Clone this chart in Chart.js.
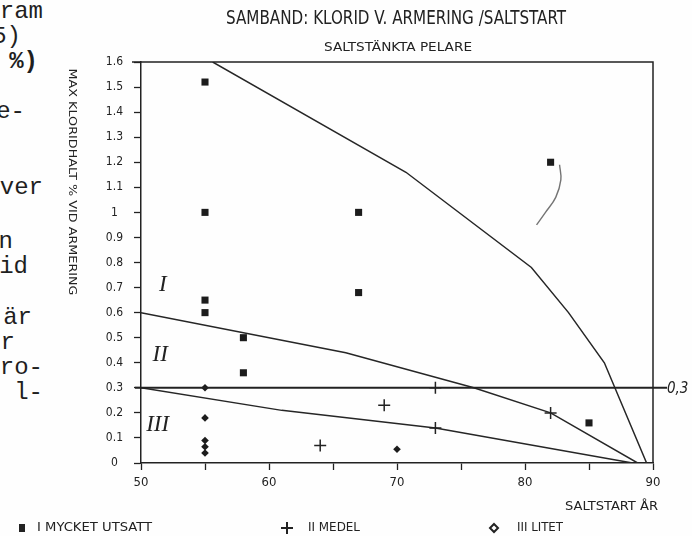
<!DOCTYPE html>
<html>
<head>
<meta charset="utf-8">
<title>Samband: klorid v. armering / saltstart</title>
<script src="https://cdn.jsdelivr.net/npm/chart.js@4.4.0/dist/chart.umd.min.js"></script>
<style>
    body { margin: 0; background: #fff; }
    #wrap { position: relative; width: 692px; height: 536px; overflow: hidden; background: #fefefe; }
    #chart { position: absolute; left: 0; top: 0; }
    .typ { position: absolute; font: 24px "Liberation Mono", "DejaVu Sans Mono", monospace; color: #1f1f1f; white-space: pre; line-height: 24px; }
</style>
</head>
<body>
<div id="wrap">
    <!-- cut-off typewriter text from the page the diagram sits on -->
    <div class="typ" style="right:649px; top:0px">ram</div>
    <div class="typ" style="right:671px; top:25px">5)</div>
    <div class="typ" style="right:654px; top:50px; font-weight:bold">%)</div>
    <div class="typ" style="right:667px; top:100px">e-</div>
    <div class="typ" style="right:649px; top:176px">ver</div>
    <div class="typ" style="right:679px; top:230px">n</div>
    <div class="typ" style="right:664px; top:255px">id</div>
    <div class="typ" style="right:660px; top:306px">är</div>
    <div class="typ" style="right:677px; top:331px">r</div>
    <div class="typ" style="right:649px; top:356px">ro-</div>
    <div class="typ" style="right:649px; top:381px">l-</div>
    <canvas id="chart" width="692" height="536"></canvas>
</div>
<script>
// Values
const serieNamn = ["I MYCKET UTSATT", "II MEDEL", "III LITET"];

const utsattAr = [55, 55, 55, 55, 58, 58, 67, 67, 82, 85];
const utsattKlorid = [1.52, 1.0, 0.65, 0.6, 0.5, 0.36, 1.0, 0.68, 1.2, 0.16];

const medelAr = [73, 69, 82, 73, 64];
const medelKlorid = [0.3, 0.23, 0.2, 0.14, 0.07];

const litetAr = [55, 55, 55, 55, 55, 70];
const litetKlorid = [0.3, 0.18, 0.09, 0.065, 0.04, 0.055];

// boundary lines between the classes I / II / III
const grans1Ar = [55.6, 70.7, 80.5, 83.4, 86.2, 89.5];
const grans1Klorid = [1.6, 1.16, 0.78, 0.6, 0.4, 0];
const grans2Ar = [50, 66, 76, 82, 88.8];
const grans2Klorid = [0.6, 0.44, 0.3, 0.2, 0];
const grans3Ar = [50, 61, 73, 88.4];
const grans3Klorid = [0.3, 0.21, 0.14, 0];

// pencil stroke next to the 1.2 point
const bagAr = [82.7, 82.8, 82.4, 81.6, 80.9];
const bagKlorid = [1.19, 1.13, 1.06, 1.0, 0.95];

const gransvarde = 0.3;

const xTickLabels = ["50", "", "60", "", "70", "", "80", "", "90"];
const yTickLabels = ["0", "0.1", "0.2", "0.3", "0.4", "0.5", "0.6", "0.7", "0.8", "0.9",
    "1", "1.1", "1.2", "1.3", "1.4", "1.5", "1.6"];

const FONT = '"Liberation Sans Narrow", "DejaVu Sans Condensed", "Roboto Condensed", "Liberation Sans", sans-serif';
const INK = "#222";

Chart.defaults.font.family = FONT;
Chart.defaults.color = INK;

// Function to pair x and y arrays into points
function toPoints(xs, ys) {
    return xs.map((v, i) => ({ x: v, y: ys[i] }));
}

// Function to draw text squeezed to a given width
function fitText(ctx, text, x, y, width, align) {
    const w = ctx.measureText(text).width;
    ctx.save();
    ctx.translate(x, y);
    ctx.scale(width / w, 1);
    ctx.textAlign = align;
    ctx.fillText(text, 0, 0);
    ctx.restore();
}

function lineSet(xs, ys, extra) {
    return Object.assign({
        data: toPoints(xs, ys),
        showLine: true,
        pointRadius: 0,
        borderColor: "#262626",
        borderWidth: 1.5,
        fill: false
    }, extra || {});
}

// Plugin for the frame, 0,3 line, titles, class numerals and legend
const pageText = {
    id: "pageText",
    afterDraw(chart) {
        const { ctx, chartArea: a, scales: { x, y } } = chart;
        ctx.save();
        ctx.strokeStyle = INK;
        ctx.fillStyle = INK;
        ctx.textBaseline = "middle";

        // top and right side of the box
        ctx.lineWidth = 1.5;
        ctx.beginPath();
        ctx.moveTo(a.left - 9, a.top);
        ctx.lineTo(a.right, a.top);
        ctx.lineTo(a.right, a.bottom);
        ctx.stroke();

        // 0,3 limit, drawn past both axes
        const y03 = y.getPixelForValue(gransvarde);
        ctx.lineWidth = 2;
        ctx.beginPath();
        ctx.moveTo(a.left - 6, y03);
        ctx.lineTo(a.right + 14, y03);
        ctx.stroke();
        ctx.font = "italic 15px " + FONT;
        ctx.textAlign = "left";
        ctx.fillText("0,3", a.right + 14, y03 + 1);

        // class numerals
        ctx.font = 'italic 23px "Liberation Serif", "DejaVu Serif", serif';
        ctx.textAlign = "center";
        [["I", 51.7, 0.71], ["II", 51.5, 0.43], ["III", 51.3, 0.15]].forEach(([t, ar, kl]) => {
            ctx.fillText(t, x.getPixelForValue(ar), y.getPixelForValue(kl));
        });

        // titles
        ctx.font = "19px " + FONT;
        fitText(ctx, "SAMBAND: KLORID V. ARMERING /SALTSTART", 396, 19, 340, "center");
        ctx.font = "13px " + FONT;
        fitText(ctx, "SALTSTÄNKTA PELARE", 398, 48, 148, "center");
        fitText(ctx, "SALTSTART ÅR", 658, 507, 93, "right");

        // y title reads top to bottom
        ctx.save();
        ctx.translate(72, 182);
        ctx.rotate(Math.PI / 2);
        ctx.font = "11px " + FONT;
        fitText(ctx, "MAX KLORIDHALT % VID ARMERING", 0, 0, 227, "center");
        ctx.restore();

        // legend
        const ly = 528;
        const legendPos = [[22, 37, 115], [287, 308, 52], [494, 517, 46]];
        ctx.font = "12px " + FONT;
        serieNamn.forEach((name, i) => {
            const [mx, tx, tw] = legendPos[i];
            if (i === 0) {
                ctx.fillRect(mx - 3, ly - 4, 6, 8);
            } else if (i === 1) {
                ctx.lineWidth = 2;
                ctx.beginPath();
                ctx.moveTo(mx - 6, ly); ctx.lineTo(mx + 6, ly);
                ctx.moveTo(mx, ly - 6); ctx.lineTo(mx, ly + 6);
                ctx.stroke();
            } else {
                ctx.lineWidth = 2;
                ctx.beginPath();
                ctx.moveTo(mx, ly - 4); ctx.lineTo(mx + 4, ly);
                ctx.lineTo(mx, ly + 4); ctx.lineTo(mx - 4, ly);
                ctx.closePath();
                ctx.stroke();
            }
            fitText(ctx, name, tx, ly, tw, "left");
        });
        ctx.restore();
    }
};

new Chart(document.getElementById("chart").getContext("2d"), {
    type: "scatter",
    data: {
        datasets: [
            {
                label: serieNamn[0],
                data: toPoints(utsattAr, utsattKlorid),
                pointStyle: "rect",
                pointRadius: 5,
                backgroundColor: "#1c1c1c",
                borderWidth: 0
            },
            {
                label: serieNamn[1],
                data: toPoints(medelAr, medelKlorid),
                pointStyle: "cross",
                pointRadius: 6,
                borderColor: "#222",
                borderWidth: 1.5
            },
            {
                label: serieNamn[2],
                data: toPoints(litetAr, litetKlorid),
                pointStyle: "rectRot",
                pointRadius: 3.8,
                backgroundColor: "#1c1c1c",
                borderWidth: 0
            },
            lineSet(grans1Ar, grans1Klorid),
            lineSet(grans2Ar, grans2Klorid),
            lineSet(grans3Ar, grans3Klorid),
            lineSet(bagAr, bagKlorid, { borderColor: "rgba(70,70,70,0.75)", borderWidth: 1.4, tension: 0.4 })
        ]
    },
    options: {
        responsive: false,
        animation: false,
        events: [],
        layout: { padding: { left: 0, top: 62, right: 39, bottom: 0 } },
        plugins: {
            legend: { display: false },
            tooltip: { enabled: false }
        },
        scales: {
            x: {
                type: "linear",
                min: 50,
                max: 90,
                afterFit(s) { s.height = 73; },
                border: { color: INK, width: 1.5 },
                grid: { drawOnChartArea: false, tickLength: 7, tickColor: INK, tickWidth: 1.3 },
                ticks: {
                    stepSize: 5,
                    autoSkip: false,
                    maxRotation: 0,
                    padding: 5,
                    font: { size: 13 },
                    callback: (v, i) => xTickLabels[i]
                }
            },
            y: {
                min: 0,
                max: 1.6,
                afterFit(s) { s.width = 141; },
                border: { color: INK, width: 1.5 },
                grid: { drawOnChartArea: false, tickLength: 7, tickColor: INK, tickWidth: 1.3 },
                ticks: {
                    stepSize: 0.1,
                    autoSkip: false,
                    crossAlign: "center",
                    padding: 11,
                    font: { size: 12 },
                    callback: (v, i) => yTickLabels[i]
                }
            }
        }
    },
    plugins: [pageText]
});
</script>
</body>
</html>
